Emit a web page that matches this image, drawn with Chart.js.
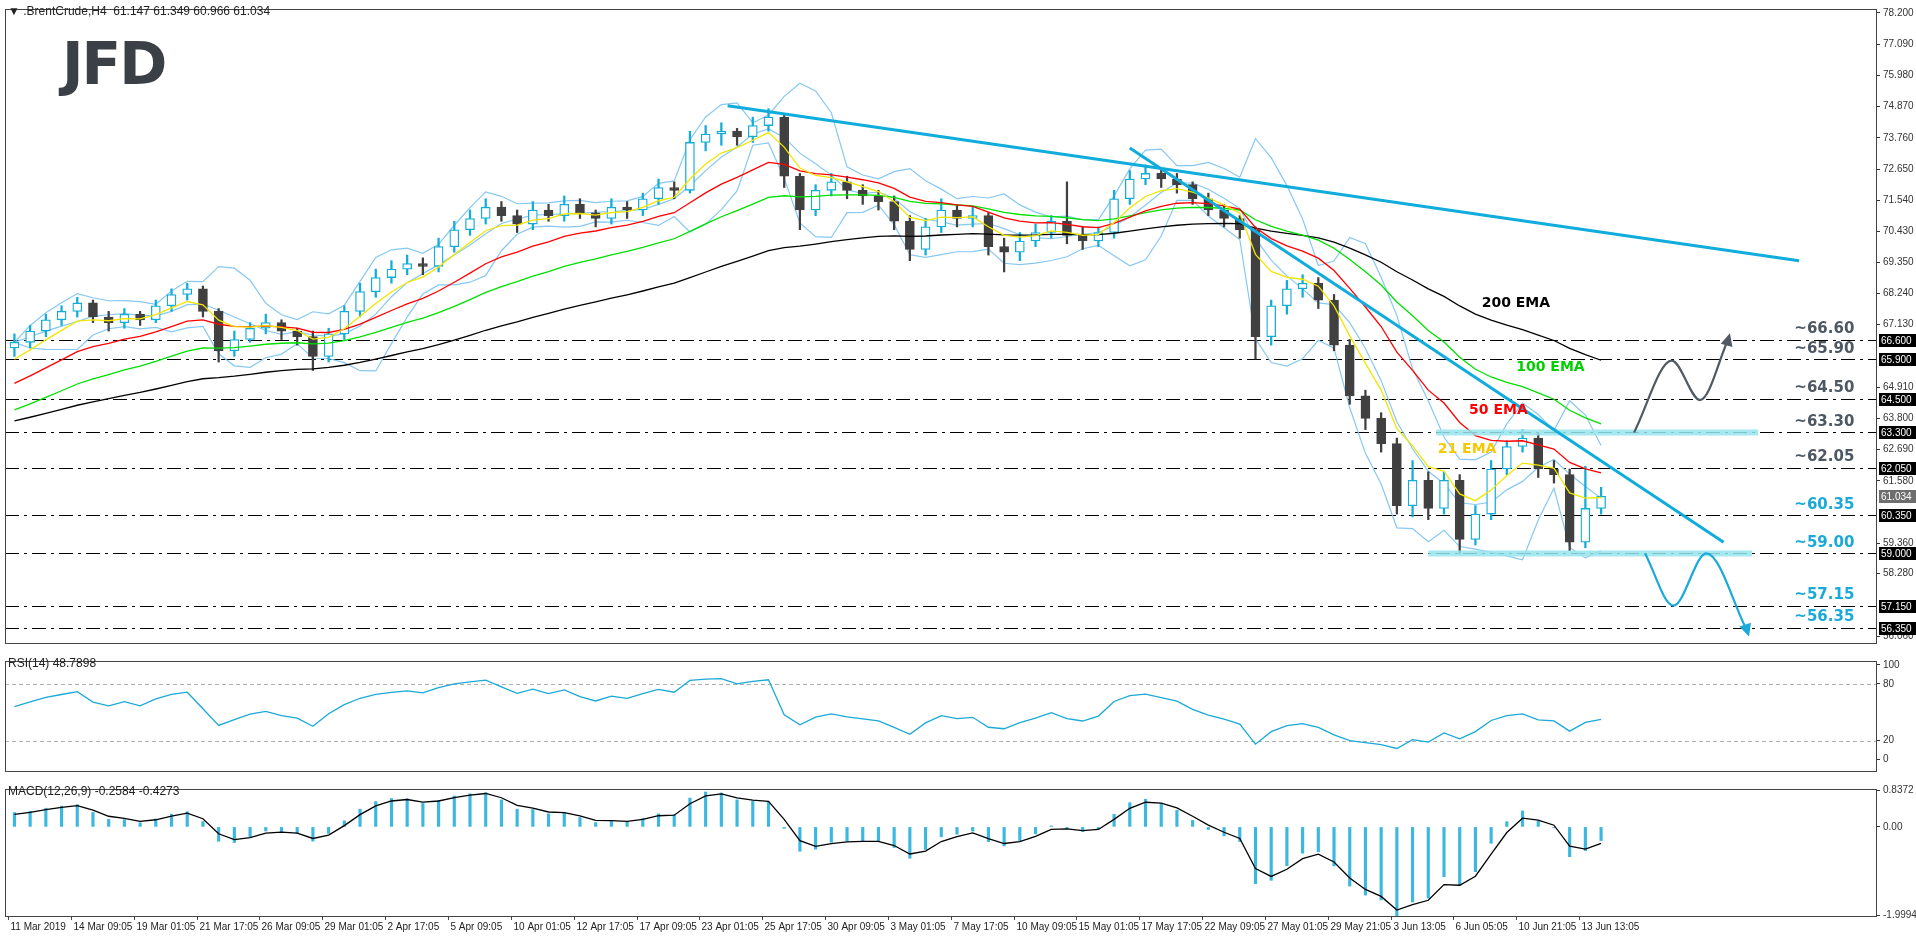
<!DOCTYPE html>
<html>
<head>
<meta charset="utf-8">
<script src="https://cdn.jsdelivr.net/npm/chart.js@4.4.1/dist/chart.umd.min.js"></script>
<style>
  body { margin:0; background:#fff; width:1916px; height:936px; overflow:hidden; font-family:'Liberation Sans', Arial, sans-serif; }
  .panel { position:absolute; left:0; width:1916px; }
  .lbl { position:absolute; font-size:12px; color:#222; white-space:pre; }
  #logo { position:absolute; left:62px; top:30px; font:bold 58px 'DejaVu Sans', sans-serif; color:#3b4047; letter-spacing:-2px; }
</style>
</head>
<body>
<div class="panel" style="top:0;height:652px"><canvas id="main" width="1916" height="652"></canvas></div>
<div class="panel" style="top:652px;height:128px"><canvas id="rsi" width="1916" height="128"></canvas></div>
<div class="panel" style="top:780px;height:156px"><canvas id="macd" width="1916" height="156"></canvas></div>
<div id="logo">JFD</div>
<div class="lbl" style="left:8px;top:4px">▼ .BrentCrude,H4  61.147 61.349 60.966 61.034</div>
<div class="lbl" style="left:8px;top:656px">RSI(14) 48.7898</div>
<div class="lbl" style="left:8px;top:784px">MACD(12,26,9) -0.2584 -0.4273</div>
<script>

/*=============================================
DATA (one candle = 4 H4 bars)
=============================================*/

const firstOpen = 66.3

const closes = [66.5,66.9,67.3,67.6,67.9,67.4,67.2,67.5,67.3,67.8,
 68.2,68.4,67.6,66.2,66.6,67.0,67.2,66.9,66.7,66.0,
 66.8,67.6,68.3,68.8,69.1,69.3,69.2,69.9,70.5,70.9,
 71.3,71.0,70.7,71.2,71.0,71.4,71.1,70.9,71.3,71.2,
 71.6,72.0,71.9,73.6,73.9,74.0,73.8,74.2,74.5,72.4,
 71.2,71.9,72.2,71.9,71.7,71.5,70.8,69.8,70.6,71.2,
 70.9,71.0,69.9,69.7,70.1,70.4,70.8,70.3,70.1,70.4,
 71.6,72.3,72.5,72.3,72.1,71.6,71.2,70.9,70.5,66.7,
 67.8,68.4,68.6,68.0,66.4,64.6,63.8,62.9,60.7,61.6,
 60.6,61.6,59.5,60.4,62.0,62.8,63.1,62.0,61.8,59.4,
 60.6,61.03]

const highs = [66.8,67.1,67.5,67.8,68.1,68.0,67.6,67.7,67.6,68.0,
 68.4,68.6,68.5,67.7,66.9,67.2,67.5,67.3,67.0,66.9,
 67.0,67.8,68.6,69.1,69.4,69.6,69.5,70.2,70.8,71.2,
 71.6,71.5,71.2,71.5,71.4,71.7,71.6,71.2,71.6,71.5,
 71.8,72.3,72.2,74.0,74.2,74.3,74.1,74.5,74.8,74.6,
 72.5,72.1,72.5,72.4,72.1,71.9,71.7,71.0,70.9,71.6,
 71.4,71.3,71.1,70.2,70.4,70.7,71.0,72.2,70.6,70.6,
 71.9,72.6,72.8,72.7,72.5,72.2,71.8,71.4,71.0,70.6,
 68.0,68.7,68.9,68.8,68.2,66.6,64.8,64.0,63.1,62.3,
 61.9,61.9,61.8,60.7,62.3,63.0,63.4,63.3,62.3,62.0,
 62.1,61.35]

const lows = [66.0,66.3,66.7,67.1,67.4,67.2,66.9,67.0,67.1,67.2,
 67.6,68.0,67.4,65.8,66.0,66.5,66.8,66.6,66.4,65.5,
 65.8,66.6,67.4,68.1,68.6,68.9,68.9,69.0,69.7,70.3,
 70.7,70.8,70.4,70.5,70.8,70.8,70.9,70.6,70.7,70.9,
 71.0,71.4,71.6,71.8,73.3,73.5,73.5,73.6,74.0,72.0,
 70.5,71.0,71.7,71.6,71.4,71.2,70.5,69.4,69.6,70.4,
 70.6,70.6,69.6,69.0,69.4,69.9,70.2,70.0,69.8,69.9,
 70.2,71.4,72.1,72.0,71.8,71.4,71.0,70.6,70.2,65.9,
 66.4,67.5,68.1,67.7,66.2,64.3,63.4,62.6,60.4,60.3,
 60.2,60.4,59.0,59.3,60.2,61.8,62.6,61.7,61.5,59.1,
 59.2,60.4]

const dateLabels = ['11 Mar 2019','14 Mar 09:05','19 Mar 01:05','21 Mar 17:05','26 Mar 09:05','29 Mar 01:05','2 Apr 17:05','5 Apr 09:05','10 Apr 01:05','12 Apr 17:05','17 Apr 09:05','23 Apr 01:05','25 Apr 17:05','30 Apr 09:05','3 May 01:05','7 May 17:05','10 May 09:05','15 May 01:05','17 May 17:05','22 May 09:05','27 May 01:05','29 May 21:05','3 Jun 13:05','6 Jun 05:05','10 Jun 21:05','13 Jun 13:05']

const priceTicks = [78.2,77.09,75.98,74.87,73.76,72.65,71.54,70.43,69.35,68.24,67.13,64.91,63.8,62.69,61.58,59.36,58.28,56.06]

const levels = [66.6,65.9,64.5,63.3,62.05,60.35,59.0,57.15,56.35]
const levelNames = ['~66.60','~65.90','~64.50','~63.30','~62.05','~60.35','~59.00','~57.15','~56.35']
const lastPrice = 61.034

// EMA 21/50/100/200 bars -> candles of 4 bars
const emaPeriods = [5, 13, 25, 50]
const emaSeeds = [65.6, 64.8, 63.9, 63.6]
const emaColors = ['#f2e600', '#ff0000', '#00e000', '#000000']
const emaNames = ['21 EMA', '50 EMA', '100 EMA', '200 EMA']
const emaNamePos = [[90.6, 62.7], [92.6, 64.1], [95.6, 65.6], [93.4, 67.9]]

// drawn annotations
const trendUpper = [{x:45.4, y:74.9}, {x:113.6, y:69.4}]
const trendLower = [{x:71.0, y:73.4}, {x:108.8, y:59.4}]
const bandTop = [{x:90.5, y:63.3}, {x:111.0, y:63.3}]
const bandBottom = [{x:90.0, y:59.0}, {x:110.6, y:59.0}]
const pathUp = [{x:103.1, y:63.3}, {x:105.5, y:65.85}, {x:107.3, y:64.45}, {x:109.1, y:66.62}]
const pathDown = [{x:103.8, y:59.0}, {x:105.6, y:57.15}, {x:107.7, y:59.0}, {x:110.3, y:56.25}]

/*=============================================
INDICATORS
=============================================*/

const ema = (arr, n, seed)=>{
    let k = 2 / (n + 1)
    let prev = seed
    return arr.map(v=>{ prev = prev + k * (v - prev); return prev })
}

const opens = closes.map((c, i)=> i == 0 ? firstOpen : closes[i - 1])

const bb = { mid:[], up:[], lo:[] }
closes.forEach((c, i)=>{
    let win = closes.slice(Math.max(0, i - 4), i + 1)
    let m = win.reduce((a, b)=>a + b, 0) / win.length
    let sd = Math.sqrt(win.reduce((a, b)=>a + (b - m) * (b - m), 0) / win.length)
    bb.mid.push(m); bb.up.push(m + 2 * sd); bb.lo.push(m - 2 * sd)
})

const rsiVals = (()=>{
    let n = 8, ag = 0.25, al = 0.22, out = []
    closes.forEach((c, i)=>{
        let d = c - opens[i]
        ag = (ag * (n - 1) + Math.max(d, 0)) / n
        al = (al * (n - 1) + Math.max(-d, 0)) / n
        out.push(100 - 100 / (1 + ag / al))
    })
    return out
})()

const fast = ema(closes, 3, 66.4)
const slow = ema(closes, 7, 66.0)
const macdMain = fast.map((f, i)=>f - slow[i])
const macdSignal = ema(macdMain, 2, 0.2)

const pts = arr=>arr.map((y, i)=>({x:i, y}))

/*=============================================
COMMON
=============================================*/

const xScale = { type:'linear', min:-0.6, max:118.5, offset:false, display:false }
const FONT = { family:"'Liberation Sans', Arial, sans-serif", size:10 }

const yAxis = (min, max, ticks, fmt)=>({
    position:'right', min, max,
    afterFit: s=>{ s.width = 40 },
    afterBuildTicks: s=>{ s.ticks = ticks.map(v=>({value:v})) },
    ticks:{ callback: fmt, font:FONT, color:'#333', padding:3, autoSkip:false },
    grid:{ drawOnChartArea:false, tickLength:4, color:'#333' },
    border:{ display:false }
})

const frame = {
    id:'frame',
    afterDraw: chart=>{
        let ctx = chart.ctx, a = chart.chartArea
        ctx.save()
        ctx.strokeStyle = '#444'
        ctx.lineWidth = 1
        ctx.strokeRect(a.left + 0.5, a.top + 0.5, a.width, a.height)
        ctx.restore()
    }
}

const baseOpts = (pad)=>({
    responsive:false, animation:false, devicePixelRatio:1,
    layout:{ padding:pad },
    plugins:{ legend:{ display:false }, tooltip:{ enabled:false } },
    elements:{ point:{ radius:0 } }
})

/*=============================================
MAIN PRICE CHART
=============================================*/

const bull = i=>closes[i] >= opens[i]
const CYAN = '#12acd8', DARK = '#404040'

const levelsPlugin = {
    id:'levels',
    beforeDatasetsDraw: chart=>{
        let ctx = chart.ctx, a = chart.chartArea, y = chart.scales.y
        ctx.save()
        ctx.strokeStyle = '#000'
        ctx.lineWidth = 1
        ctx.setLineDash([14, 5, 3, 5])
        levels.forEach(l=>{
            let py = Math.round(y.getPixelForValue(l)) + 0.5
            ctx.beginPath(); ctx.moveTo(a.left, py); ctx.lineTo(a.right, py); ctx.stroke()
        })
        ctx.restore()
    },
    afterDraw: chart=>{
        let ctx = chart.ctx, a = chart.chartArea, x = chart.scales.x, y = chart.scales.y
        ctx.save()
        ctx.font = "bold 15px 'DejaVu Sans', sans-serif"
        ctx.textBaseline = 'bottom'
        levels.forEach((l, i)=>{
            ctx.fillStyle = l > 61 ? '#4d5862' : '#1aa9d8'
            ctx.fillText(levelNames[i], x.getPixelForValue(113.3), y.getPixelForValue(l) - 3)
        })
        ctx.font = "bold 14px 'DejaVu Sans', sans-serif"
        ctx.textBaseline = 'middle'
        emaNames.forEach((n, i)=>{
            ctx.fillStyle = i == 0 ? '#f7c800' : (i == 2 ? '#00d000' : emaColors[i])
            ctx.fillText(n, x.getPixelForValue(emaNamePos[i][0]), y.getPixelForValue(emaNamePos[i][1]))
        })
        // boxes on the price axis
        ctx.font = "10px 'Liberation Sans', Arial, sans-serif"
        ctx.textAlign = 'left'
        levels.concat([lastPrice]).forEach(l=>{
            let py = Math.round(y.getPixelForValue(l))
            ctx.fillStyle = l == lastPrice ? '#6e6e6e' : '#000'
            ctx.fillRect(a.right + 3, py - 6, 38, 13)
            ctx.fillStyle = '#fff'
            ctx.fillText(l.toFixed(3), a.right + 5, py + 1)
        })
        // arrow heads
        const head = (p, q, color)=>{
            let x1 = x.getPixelForValue(p.x), y1 = y.getPixelForValue(p.y)
            let x2 = x.getPixelForValue(q.x), y2 = y.getPixelForValue(q.y)
            let ang = Math.atan2(y2 - y1, x2 - x1)
            ctx.fillStyle = color
            ctx.beginPath()
            ctx.moveTo(x2 + 6 * Math.cos(ang), y2 + 6 * Math.sin(ang))
            ctx.lineTo(x2 + 9 * Math.cos(ang + 2.4), y2 + 9 * Math.sin(ang + 2.4))
            ctx.lineTo(x2 + 9 * Math.cos(ang - 2.4), y2 + 9 * Math.sin(ang - 2.4))
            ctx.closePath(); ctx.fill()
        }
        head({x:108.6, y:65.6}, pathUp[3], '#505a64')
        head({x:109.7, y:57.3}, pathDown[3], '#1aa9d8')
        ctx.restore()
    }
}

const lineDs = (data, color, width, order, extra)=>Object.assign({
    type:'line', data, borderColor:color, borderWidth:width, order, pointRadius:0, fill:false
}, extra || {})

const mainDatasets = [
    { type:'bar', data:closes.map((c, i)=>({x:i, y:[lows[i], highs[i]]})),
      backgroundColor:closes.map((c, i)=>bull(i) ? CYAN : DARK), barThickness:1.6, grouped:false, order:20 },
    { type:'bar', data:closes.map((c, i)=>({x:i, y:[opens[i], c]})),
      backgroundColor:closes.map((c, i)=>bull(i) ? '#ffffff' : DARK),
      borderColor:closes.map((c, i)=>bull(i) ? CYAN : DARK),
      borderWidth:1.3, borderSkipped:false, barThickness:9, grouped:false, order:19 },
    lineDs(pts(bb.up), '#86c8f2', 1.2, 30),
    lineDs(pts(bb.mid), '#86c8f2', 1.2, 30),
    lineDs(pts(bb.lo), '#86c8f2', 1.2, 30)
]
emaPeriods.forEach((p, i)=>{
    mainDatasets.push(lineDs(pts(ema(closes, p, emaSeeds[i])), emaColors[i], 1.3, 10))
})
mainDatasets.push(
    lineDs(bandTop, 'rgba(150,228,236,0.85)', 6, 5),
    lineDs(bandBottom, 'rgba(150,228,236,0.85)', 6, 5),
    lineDs(trendUpper, '#10acdc', 3, 4),
    lineDs(trendLower, '#10acdc', 3, 4),
    lineDs(pathUp, '#505a64', 2.2, 4, { cubicInterpolationMode:'monotone' }),
    lineDs(pathDown, '#1aa9d8', 2.2, 4, { cubicInterpolationMode:'monotone' })
)

new Chart(document.getElementById('main'), {
    type:'bar',
    data:{ datasets:mainDatasets },
    options:Object.assign(baseOpts({ left:5, right:0, top:3, bottom:2 }), {
        scales:{ x:xScale, y:yAxis(55.82, 78.34, priceTicks, v=>v.toFixed(3)) }
    }),
    plugins:[levelsPlugin, frame]
})

/*=============================================
RSI
=============================================*/

const rsiGuides = {
    id:'rsiGuides',
    beforeDatasetsDraw: chart=>{
        let ctx = chart.ctx, a = chart.chartArea, y = chart.scales.y
        ctx.save()
        ctx.strokeStyle = '#b0b0b0'
        ctx.setLineDash([4, 3])
        ;[80, 20].forEach(v=>{
            let py = Math.round(y.getPixelForValue(v)) + 0.5
            ctx.beginPath(); ctx.moveTo(a.left, py); ctx.lineTo(a.right, py); ctx.stroke()
        })
        ctx.restore()
    }
}

new Chart(document.getElementById('rsi'), {
    type:'line',
    data:{ datasets:[ lineDs(pts(rsiVals), '#1aa9d8', 1.3, 1) ] },
    options:Object.assign(baseOpts({ left:5, right:0, top:2, bottom:1 }), {
        scales:{ x:xScale, y:yAxis(-12, 104, [100, 80, 20, 0], v=>String(v)) }
    }),
    plugins:[rsiGuides, frame]
})

/*=============================================
MACD
=============================================*/

const dates = {
    id:'dates',
    afterDraw: chart=>{
        let ctx = chart.ctx, a = chart.chartArea, x = chart.scales.x
        ctx.save()
        ctx.font = "10px 'Liberation Sans', Arial, sans-serif"
        ctx.fillStyle = '#222'
        ctx.strokeStyle = '#444'
        ctx.textBaseline = 'top'
        dateLabels.forEach((d, i)=>{
            let px = Math.round(x.getPixelForValue(4 * i - 0.4)) + 0.5
            ctx.beginPath(); ctx.moveTo(px, a.bottom); ctx.lineTo(px, a.bottom + 4); ctx.stroke()
            ctx.fillText(d, px + 2, a.bottom + 6)
        })
        ctx.restore()
    }
}

new Chart(document.getElementById('macd'), {
    type:'bar',
    data:{ datasets:[
        { type:'bar', data:pts(macdMain), backgroundColor:'#3cb8e0', barThickness:2.5, order:2 },
        lineDs(pts(macdSignal), '#000', 1.3, 1)
    ] },
    options:Object.assign(baseOpts({ left:5, right:0, top:2, bottom:20 }), {
        scales:{ x:xScale, y:yAxis(-2.02, 0.86, [0.8372, 0, -1.9994], v=>v == 0 ? '0.00' : String(v)) }
    }),
    plugins:[dates, frame]
})

</script>
</body>
</html>
